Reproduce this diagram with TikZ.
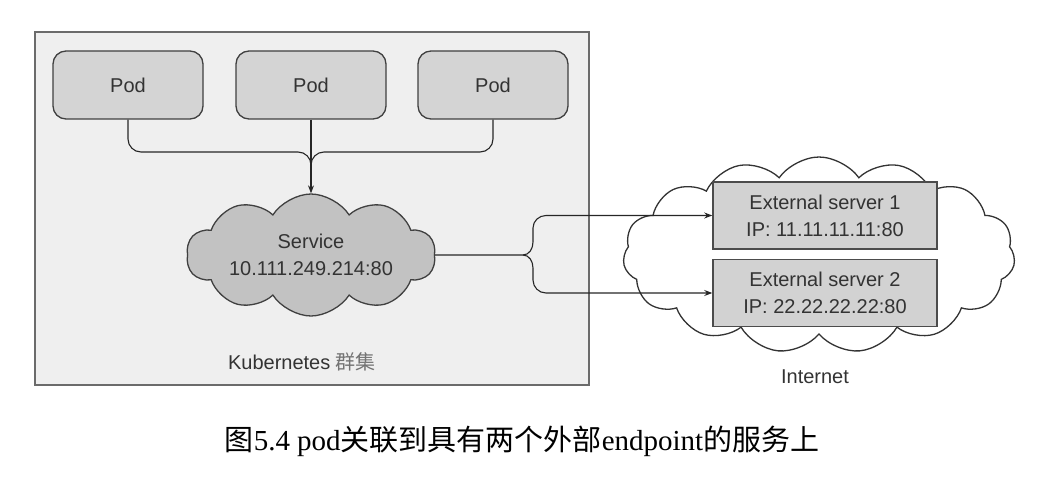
\documentclass[tikz,border=0pt]{standalone}
\usepackage{fontspec}
\setmainfont{Liberation Sans}
\newfontfamily\cjk{Noto Sans CJK SC}
\newfontfamily\capserif{Liberation Serif}
\usetikzlibrary{shapes.symbols,arrows.meta}
\definecolor{boxfill}{HTML}{EFEFEF}
\definecolor{boxline}{HTML}{6B6B6B}
\definecolor{podfill}{HTML}{D4D4D4}
\definecolor{svcfill}{HTML}{C2C2C2}
\definecolor{srvfill}{HTML}{D2D2D2}
\definecolor{txt}{HTML}{333333}
\tikzset{
  lbl/.style={font=\fontsize{20}{27}\selectfont, text=txt, align=center, inner sep=0pt},
  podbox/.style={draw=black!75, line width=1.3pt, fill=podfill, rounded corners=13pt,
     minimum width=150pt, minimum height=68pt, lbl},
  srvbox/.style={draw=black!70, line width=1.5pt, fill=srvfill,
     minimum width=224pt, minimum height=67pt, lbl},
  conn/.style={draw=black!85, line width=1.1pt},
  tip/.style={-{Stealth[length=8pt,width=6pt]}},
}
\begin{document}
\begin{tikzpicture}[x=1pt,y=-1pt]
\useasboundingbox (0,0) rectangle (1046,492);
% cluster box
\node[draw=boxline, line width=1.8pt, fill=boxfill, minimum width=554pt, minimum height=353pt, inner sep=0pt] (cluster) at (312,208.5) {};
% pods
\node[podbox] (p1) at (128,85) {Pod};
\node[podbox] (p2) at (311,85) {Pod};
\node[podbox] (p3) at (493,85) {Pod};
% service cloud
\node[cloud, cloud puffs=10, cloud puff arc=115, cloud ignores aspect, draw=black!75, line width=1.3pt, fill=svcfill,
  minimum width=249pt, minimum height=122pt, inner sep=0pt, lbl] (svc) at (311,255) {Service\\10.111.249.214:80};
\node[lbl] (klabel) at (302,362) {Kubernetes {\cjk\color{black!55}群集}};
% internet cloud
\node[cloud, cloud puffs=15, cloud puff arc=110, cloud ignores aspect, draw=black!80, line width=1.3pt, fill=white,
  minimum width=392pt, minimum height=196pt, inner sep=0pt] (inet) at (819,255) {};
\node[lbl] (ilabel) at (815,377) {Internet};
% servers
\node[srvbox] (s1) at (825,215.5) {External server 1\\IP: 11.11.11.11:80};
\node[srvbox] (s2) at (825,293) {External server 2\\IP: 22.22.22.22:80};
% pod connectors
\coordinate (m) at (311,152);
\coordinate (mdown) at (311,180);
\draw[conn, rounded corners=13pt] (p1.south) -- (p1.south |- m) -- (m) -- (mdown);
\draw[conn, rounded corners=13pt] (p3.south) -- (p3.south |- m) -- (m) -- (mdown);
\draw[conn, tip] (p2.south) -- (svc.north);
% service to servers
\coordinate (j) at (523,255);
\draw[conn, tip] (svc.east) -- (j) to[out=0,in=-90] (533,242) -- (533,228) to[out=90,in=180] (546,215.5) -- (s1.west);
\draw[conn, tip] (j) to[out=0,in=90] (533,268) -- (533,280) to[out=-90,in=180] (546,293) -- (s2.west);
% caption
\node[inner sep=0pt, font=\fontsize{29}{32}\selectfont, text=black] (cap) at (522,441)
  {{\cjk 图}{\capserif 5.4 pod}{\cjk 关联到具有两个外部}{\capserif endpoint}{\cjk 的服务上}};
\end{tikzpicture}
\end{document}
